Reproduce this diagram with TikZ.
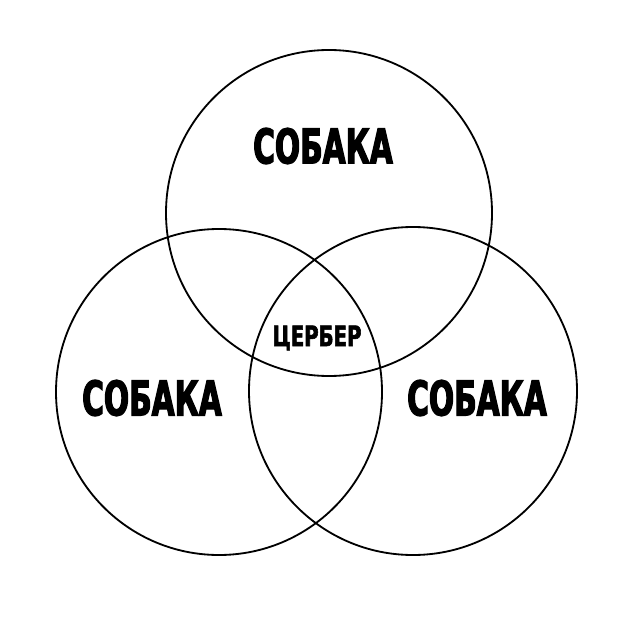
\documentclass[tikz,border=0pt]{standalone}
\usepackage{fontspec}
\newfontfamily\dogfont[FakeStretch=0.62,FakeBold=2.5]{DejaVu Sans Bold}
\newfontfamily\hellfont[FakeStretch=0.7,FakeBold=2]{DejaVu Sans Bold}

\tikzset{
  ring/.style={circle, draw, line width=1.3pt, minimum size=81.5mm, inner sep=0pt},
  doglabel/.style={font=\dogfont\fontsize{34}{34}\selectfont, inner sep=0pt},
  hell/.style={font=\hellfont\fontsize{20}{20}\selectfont, inner sep=0pt}
}

\begin{document}
\begin{tikzpicture}[x=0.25mm, y=-0.25mm]
  \useasboundingbox (0,0) rectangle (640,640);

  % the three circles
  \node [ring](top) at (329,213) {};
  \node [ring](left) at (219,392) {};
  \node [ring, minimum size=82mm](right) at (413,391) {};

  % labels
  \node [doglabel](dogtop) at (323,146) {СОБАКА};
  \node [doglabel](dogleft) at (152,398) {СОБАКА};
  \node [doglabel](dogright) at (477,398) {СОБАКА};
  \node [hell](cerberus) at (317,338) {ЦЕРБЕР};
\end{tikzpicture}
\end{document}
